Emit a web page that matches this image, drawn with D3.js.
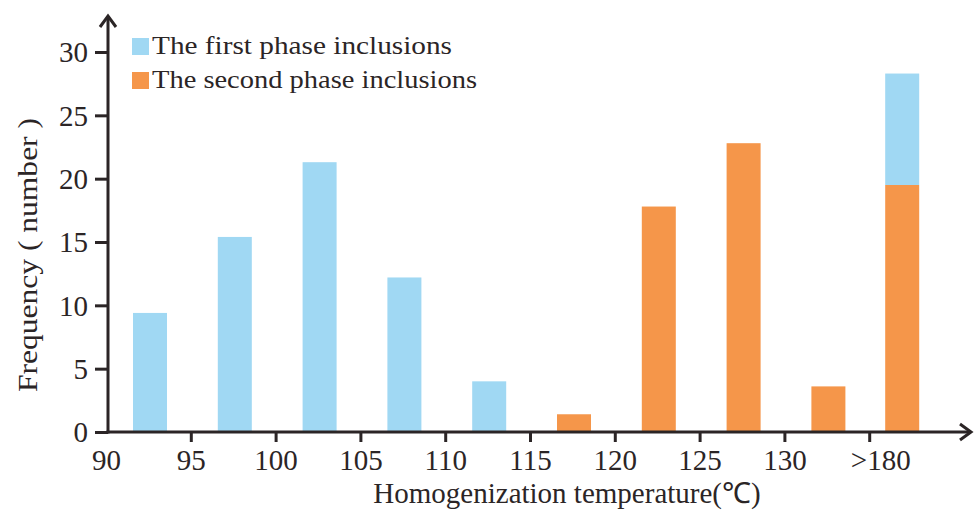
<!DOCTYPE html>
<html><head><meta charset="utf-8">
<script src="https://cdn.jsdelivr.net/npm/d3@7/dist/d3.min.js"></script>
<style>
html,body{margin:0;padding:0;background:#fff;}
svg{display:block;}
text{font-family:"Liberation Serif","Times New Roman",serif;fill:#2b2526;}
</style></head>
<body>
<svg id="chart" width="980" height="517"></svg>
<script>
// ---- data ----
const tickLabels = ["90","95","100","105","110","115","120","125","130",">180"];
const bins = ["90-95","95-100","100-105","105-110","110-115","115-120","120-125","125-130","130-180",">180"];
const firstPhase  = [9.4, 15.4, 21.3, 12.2, 4.0, 0, 0, 0, 0, 8.8];
const secondPhase = [0, 0, 0, 0, 0, 1.4, 17.8, 22.8, 3.6, 19.5];
const seriesNames = ["The first phase inclusions","The second phase inclusions"];
const yTicks = [0,5,10,15,20,25,30];
const xTitle = "Homogenization temperature(\u2103)";
const yTitle = "Frequency ( number )";

const colors = ["#a0d8f3","#f5964a"];
const axisColor = "#2b2526";

const svg = d3.select("#chart");
const x = d3.scaleLinear().domain([0, 10]).range([106, 954]);
const y = d3.scaleLinear().domain([0, 30]).range([432, 52]);
const x0 = 108, y0 = 432;
const barW = 34;
const lastIdx = bins.length - 1;
// bar left edge: offset from the bin's left tick (open-ended bin sits closer to its tick)
const barLeft = i => x(i) + (i === lastIdx ? 16 : 27);

// stacked data: second phase at bottom, first phase on top
const rows = bins.map((b,i)=>({i, second: secondPhase[i], first: firstPhase[i]}));
const stack = d3.stack().keys(["second","first"])(rows);
const colorByKey = {second: colors[1], first: colors[0]};

svg.append("g").selectAll("g").data(stack).join("g")
  .attr("fill", d=>colorByKey[d.key])
  .selectAll("rect").data(d=>d.filter(s=>s[1]-s[0]>0)).join("rect")
  .attr("x", d=>barLeft(d.data.i))
  .attr("width", barW)
  .attr("y", d=>y(d[1]))
  .attr("height", d=>y(d[0])-y(d[1]));

// y axis ticks & labels
const yAxis = d3.axisLeft(y).tickValues(yTicks).tickSize(13).tickPadding(7).tickFormat(d3.format("d"));
const gy = svg.append("g").attr("transform",`translate(${x0},0)`).call(yAxis);
gy.select(".domain").remove();
gy.selectAll(".tick line").attr("stroke",axisColor).attr("stroke-width",3);
gy.selectAll(".tick text").style("font-size","29px").attr("dy","0.34em").attr("fill",axisColor)
  .style("font-family","'Liberation Serif',serif");

// x axis ticks & labels
const xAxis = d3.axisBottom(x).tickValues(d3.range(0,10)).tickSize(10).tickPadding(7)
  .tickFormat(i=>tickLabels[i]);
const gx = svg.append("g").attr("transform",`translate(0,${y0})`).call(xAxis);
gx.select(".domain").remove();
gx.selectAll(".tick line").attr("stroke",axisColor).attr("stroke-width",3)
  .attr("opacity",(d)=>d===0?0:1);
gx.selectAll(".tick text").style("font-size","29px").attr("fill",axisColor)
  .style("font-family","'Liberation Serif',serif")
  .attr("dx",(d)=>d===9?11:0);

// axis lines with arrows
const ax = svg.append("g").attr("stroke",axisColor).attr("stroke-width",3).attr("fill","none")
  .attr("stroke-linecap","butt");
ax.append("path").attr("d",`M${x0},${y0+1.5}V16`);
ax.append("path").attr("d",`M${x0-8},27L${x0},16L${x0+8},27`).attr("stroke-linejoin","miter");
ax.append("path").attr("d",`M${x0-1.5},${y0}H971`);
ax.append("path").attr("d",`M960,${y0-8}L971,${y0}L960,${y0+8}`);

// legend
const legendLen = [300, 325];
const lg = svg.append("g").attr("transform","translate(132,38)");
seriesNames.forEach((n,k)=>{
  const g = lg.append("g").attr("transform",`translate(0,${k*34})`);
  g.append("rect").attr("width",17).attr("height",17).attr("fill",colors[k]);
  g.append("text").attr("x",20).attr("y",16).style("font-size","25px")
    .attr("textLength",legendLen[k]).attr("lengthAdjust","spacingAndGlyphs").text(n);
});

// titles
svg.append("text").attr("x",567).attr("y",503).attr("text-anchor","middle")
  .style("font-size","29px").text(xTitle);
svg.append("text").attr("transform","translate(37,255) rotate(-90)").attr("text-anchor","middle")
  .style("font-size","28px").attr("textLength",274).attr("lengthAdjust","spacingAndGlyphs").text(yTitle);
</script>
</body></html>
